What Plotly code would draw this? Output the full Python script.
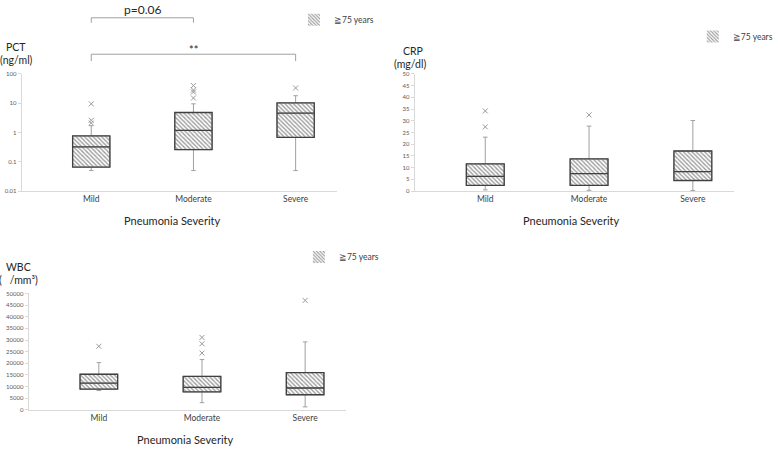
import plotly.graph_objects as go
from plotly.subplots import make_subplots

W, H = 778, 450

cats = ["Mild", "Moderate", "Severe"]

pct_lo = [0.05, 0.05, 0.05]
pct_q1 = [0.066, 0.26, 0.68]
pct_med = [0.32, 1.18, 4.6]
pct_q3 = [0.76, 4.8, 10.2]
pct_hi = [1.7, 9.5, 18.0]
pct_out_x = ["Mild", "Mild", "Mild", "Moderate", "Moderate", "Moderate", "Moderate", "Severe"]
pct_out_y = [9.5, 2.6, 2.1, 40, 28, 24, 15, 33]

crp_lo = [0.5, 0.3, 0.2]
crp_q1 = [2.4, 2.4, 4.5]
crp_med = [6.3, 7.4, 8.3]
crp_q3 = [11.6, 13.7, 17.1]
crp_hi = [23.0, 27.7, 30.1]
crp_out_x = ["Mild", "Mild", "Moderate"]
crp_out_y = [34.2, 27.4, 32.5]

wbc_lo = [8300, 3100, 1300]
wbc_q1 = [8900, 7700, 6500]
wbc_med = [11500, 9700, 9400]
wbc_q3 = [15300, 14400, 16000]
wbc_hi = [20300, 21600, 29200]
wbc_out_x = ["Mild", "Moderate", "Moderate", "Moderate", "Severe"]
wbc_out_y = [27300, 31100, 28400, 24400, 47000]

FONT = "Lato"
BOXW = 0.365


def px(x):
    return x / W


def py(y):
    return 1 - y / H


fig = make_subplots(rows=2, cols=2)

panels = [
    (1, 1, "legend", pct_lo, pct_q1, pct_med, pct_q3, pct_hi, pct_out_x, pct_out_y),
    (1, 2, "legend2", crp_lo, crp_q1, crp_med, crp_q3, crp_hi, crp_out_x, crp_out_y),
    (2, 1, "legend3", wbc_lo, wbc_q1, wbc_med, wbc_q3, wbc_hi, wbc_out_x, wbc_out_y),
]

for r, c, leg, lo, q1, med, q3, hi, ox, oy in panels:
    # hatched body
    fig.add_trace(go.Bar(
        x=cats, y=[b - a for a, b in zip(q1, q3)], base=q1, width=BOXW,
        marker=dict(color="white", line=dict(width=0),
                    pattern=dict(shape="\\", fgcolor="#3a3a3a", bgcolor="white",
                                 size=3, solidity=0.45)),
        name="\u226775 years", legend=leg, showlegend=True, hoverinfo="skip",
    ), row=r, col=c)
    # whiskers
    fig.add_trace(go.Box(
        x=cats, lowerfence=lo, q1=q1, median=med, q3=q3, upperfence=hi,
        width=BOXW, whiskerwidth=0.12, boxpoints=False,
        line=dict(color="#a0a0a0", width=1), fillcolor="rgba(0,0,0,0)",
        showlegend=False,
    ), row=r, col=c)
    # box outline + median
    fig.add_trace(go.Box(
        x=cats, lowerfence=q1, q1=q1, median=med, q3=q3, upperfence=q3,
        width=BOXW, whiskerwidth=0, boxpoints=False,
        line=dict(color="#404040", width=1.3), fillcolor="rgba(0,0,0,0)",
        showlegend=False,
    ), row=r, col=c)
    fig.add_trace(go.Scatter(
        x=ox, y=oy, mode="markers",
        marker=dict(symbol="x-thin-open", size=5, color="#9a9a9a",
                    line=dict(color="#9a9a9a", width=1)),
        showlegend=False,
    ), row=r, col=c)

xdoms = {(1, 1): (22, 340), (1, 2): (419, 742), (2, 1): (29, 350)}
ydoms = {(1, 1): (71, 190), (1, 2): (71, 190), (2, 1): (294, 412.3)}

axcommon = dict(showgrid=False, zeroline=False, showline=True, linecolor="#d9d9d9",
                linewidth=1)
for (r, c), (x0, x1) in xdoms.items():
    y0, y1 = ydoms[(r, c)]
    fig.update_xaxes(domain=[px(x0), px(x1)], range=[-0.68, 2.4], ticks="",
                     tickfont=dict(size=8.5, color="#404040", family=FONT),
                     **axcommon, row=r, col=c)
    fig.update_yaxes(domain=[py(y1), py(y0)], ticks="outside", ticklen=3,
                     tickcolor="#d9d9d9", tickfont=dict(size=6, color="#595959", family=FONT),
                     **axcommon, row=r, col=c)

fig.update_yaxes(type="log", range=[-2, 2], tickvals=[0.01, 0.1, 1, 10, 100],
                 ticktext=["0.01", "0.1", "1", "10", "100"], row=1, col=1)
fig.update_yaxes(range=[0, 50], dtick=5, row=1, col=2)
fig.update_yaxes(range=[0, 50000], dtick=5000, tickformat="d", row=2, col=1)
fig.update_xaxes(visible=False, row=2, col=2)
fig.update_yaxes(visible=False, row=2, col=2)

legstyle = dict(font=dict(size=8.5, color="#404040", family=FONT), bgcolor="rgba(0,0,0,0)",
                itemwidth=30, xanchor="left", yanchor="middle")
fig.update_layout(
    legend=dict(x=px(297), y=py(16), **legstyle),
    legend2=dict(x=px(700), y=py(33), **legstyle),
    legend3=dict(x=px(302), y=py(257), **legstyle),
)

annos = []
titles = [
    ("PCT", 16, 44), ("(ng/ml)", 17, 57),
    ("CRP", 417, 48), ("(mg/dl)", 414, 61),
    ("WBC", 19, 267), ("(\u2003/mm\u00b3)", 19, 280),
]
for txt, x, y in titles:
    annos.append(dict(text=txt, x=px(x), y=py(y), xref="paper", yref="paper",
                      xanchor="center", yanchor="middle", showarrow=False,
                      font=dict(size=10.5, color="#262626", family=FONT)))
for x, y in [(174, 220), (577, 220), (187, 442)]:
    annos.append(dict(text="Pneumonia Severity", x=px(x), y=py(y), xref="paper", yref="paper",
                      xanchor="center", yanchor="middle", showarrow=False,
                      font=dict(size=11, color="#262626", family=FONT)))

# significance brackets
br = "#a0a0a0"
shapes = []
for a, b, ytop, ybot in [(0, 1, 14, 19), (0, 2, 51, 58)]:
    shapes.append(dict(type="path", xref="x", yref="paper",
                       path=f"M {a},{py(ybot)} L {a},{py(ytop)} L {b},{py(ytop)} L {b},{py(ybot)}",
                       line=dict(color=br, width=1)))
annos.append(dict(text="p=0.06", x=0.5, y=py(6), xref="x", yref="paper", showarrow=False,
                  yanchor="middle", font=dict(size=12, color="#262626", family=FONT)))
annos.append(dict(text="**", x=1, y=py(46), xref="x", yref="paper", showarrow=False,
                  yanchor="middle", font=dict(size=11, color="#262626", family=FONT)))

fig.update_layout(
    width=W, height=H, margin=dict(l=0, r=0, t=0, b=0),
    paper_bgcolor="white", plot_bgcolor="white",
    barmode="overlay", boxmode="overlay",
    annotations=annos, shapes=shapes,
    font=dict(family=FONT),
)

fig.write_html("out.html", config={"displayModeBar": False},
               post_script="document.body.style.margin='0';")
